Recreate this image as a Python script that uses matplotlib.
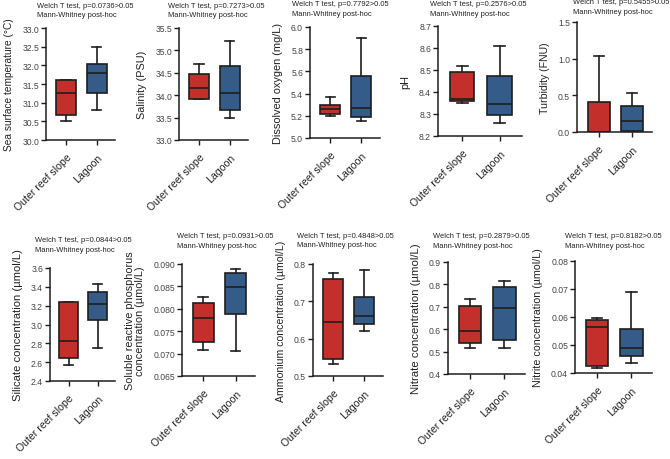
import matplotlib
matplotlib.use('Agg')
import matplotlib.pyplot as plt
import numpy as np

plt.rcParams['font.family'] = ['Liberation Sans', 'DejaVu Sans']

RED = '#C3302B'
BLUE = '#355C88'
EDGE = '#1E1E1E'

groups = ['Outer reef slope', 'Lagoon']

# five-number summaries: (min, q1, median, q3, max) for outer reef slope / lagoon
sst_outer = [30.5, 30.67, 31.25, 31.6, 31.6]
sst_lagoon = [30.8, 31.27, 31.8, 32.03, 32.5]
sal_outer = [33.92, 33.92, 34.15, 34.47, 34.7]
sal_lagoon = [33.5, 33.67, 34.05, 34.66, 35.2]
do_outer = [5.2, 5.22, 5.26, 5.3, 5.37]
do_lagoon = [5.15, 5.19, 5.27, 5.56, 5.9]
ph_outer = [8.35, 8.36, 8.37, 8.49, 8.52]
ph_lagoon = [8.26, 8.295, 8.345, 8.475, 8.61]
turb_outer = [0.0, 0.0, 0.0, 0.41, 1.03]
turb_lagoon = [0.0, 0.01, 0.15, 0.35, 0.53]
si_outer = [2.57, 2.64, 2.83, 3.24, 3.24]
si_lagoon = [2.75, 3.05, 3.22, 3.345, 3.43]
srp_outer = [0.0709, 0.0726, 0.0779, 0.0814, 0.0827]
srp_lagoon = [0.0706, 0.0788, 0.0848, 0.0880, 0.0889]
nh4_outer = [0.532, 0.545, 0.645, 0.76, 0.775]
nh4_lagoon = [0.62, 0.64, 0.66, 0.712, 0.785]
no3_outer = [0.515, 0.54, 0.593, 0.705, 0.735]
no3_lagoon = [0.515, 0.55, 0.693, 0.79, 0.815]
no2_outer = [0.0418, 0.0426, 0.0565, 0.0590, 0.0595]
no2_lagoon = [0.0435, 0.0460, 0.0488, 0.0556, 0.0688]

p_values = ['0.0736', '0.7273', '0.7792', '0.2576', '0.5455',
            '0.0844', '0.0931', '0.4848', '0.2879', '0.8182']

ylabels = ['Sea surface temperature (°C)', 'Salinity (PSU)', 'Dissolved oxygen (mg/L)',
           'pH', 'Turbidity (FNU)', 'Silicate concentration (µmol/L)',
           'Soluble reactive phosphorus\nconcentration (µmol/L)',
           'Ammonium concentration (µmol/L)', 'Nitrate concentration (µmol/L)',
           'Nitrite concentration (µmol/L)']
ylabel_size = [7.3, 7.8, 7.9, 7.8, 7.6, 8.1, 7.8, 7.6, 8.2, 7.7]

yticks = [
    [30.0, 30.5, 31.0, 31.5, 32.0, 32.5, 33.0],
    [33.0, 33.5, 34.0, 34.5, 35.0, 35.5],
    [5.0, 5.2, 5.4, 5.6, 5.8, 6.0],
    [8.2, 8.3, 8.4, 8.5, 8.6, 8.7],
    [0.0, 0.5, 1.0, 1.5],
    [2.4, 2.6, 2.8, 3.0, 3.2, 3.4, 3.6],
    [0.065, 0.070, 0.075, 0.080, 0.085, 0.090],
    [0.5, 0.6, 0.7, 0.8],
    [0.4, 0.5, 0.6, 0.7, 0.8, 0.9],
    [0.04, 0.05, 0.06, 0.07, 0.08],
]
tick_fmt = ['%.1f', '%.1f', '%.1f', '%.1f', '%.1f', '%.1f', '%.3f', '%.1f', '%.1f', '%.2f']

series = [(sst_outer, sst_lagoon), (sal_outer, sal_lagoon), (do_outer, do_lagoon),
          (ph_outer, ph_lagoon), (turb_outer, turb_lagoon), (si_outer, si_lagoon),
          (srp_outer, srp_lagoon), (nh4_outer, nh4_lagoon), (no3_outer, no3_lagoon),
          (no2_outer, no2_lagoon)]

# axes boxes in pixels: left, right, top, bottom ; title anchor x, y (line 1)
W, H = 670, 460
boxes = [(46, 115, 29, 141), (179, 248, 29, 141), (310, 380, 28, 139),
         (438, 522, 27, 137), (577, 652, 23, 133),
         (50, 115, 269, 382), (182, 255, 265, 377), (313, 383, 265, 377),
         (448, 525, 263, 375), (575, 652, 262, 374)]
titles_at = [(37, 6), (168, 6), (292, 5), (430, 5), (573, 3),
             (35, 241), (177, 237), (297, 236), (433, 237), (565, 237)]


def stats(v, label):
    return dict(whislo=v[0], q1=v[1], med=v[2], q3=v[3], whishi=v[4], label=label, fliers=[])


fig = plt.figure(figsize=(W / 100, H / 100), dpi=100, facecolor='white')

for i in range(10):
    l, r, t, b = boxes[i]
    ax = fig.add_axes([l / W, 1 - b / H, (r - l) / W, (b - t) / H])
    outer, lagoon = series[i]
    bp = ax.bxp([stats(outer, groups[0]), stats(lagoon, groups[1])],
                positions=[1, 2], widths=0.65, patch_artist=True, capwidths=0.3,
                showfliers=False,
                boxprops=dict(linewidth=1.2, edgecolor=EDGE),
                whiskerprops=dict(linewidth=1.2, color=EDGE),
                capprops=dict(linewidth=1.2, color=EDGE),
                medianprops=dict(linewidth=1.2, color=EDGE))
    for patch, c in zip(bp['boxes'], [RED, BLUE]):
        patch.set_facecolor(c)
    for art in bp['whiskers'] + bp['caps']:
        art.set_zorder(1)
    ax.set_xlim(0.35, 2.6)
    ax.set_ylim(yticks[i][0], yticks[i][-1])
    ax.set_yticks(yticks[i])
    ax.set_yticklabels([tick_fmt[i] % v for v in yticks[i]])
    ax.set_xticks([1, 2])
    ax.set_xticklabels(groups, rotation=45, ha='right', rotation_mode='anchor', fontsize=7.6)
    ax.spines['top'].set_visible(False)
    ax.spines['right'].set_visible(False)
    for s in ['left', 'bottom']:
        ax.spines[s].set_linewidth(1.1)
        ax.spines[s].set_color(EDGE)
    ax.tick_params(axis='y', labelsize=6.2, colors=EDGE, labelcolor='#444444',
                   length=3.5, width=1.0, pad=1.5)
    ax.tick_params(axis='x', length=3.5, width=1.0, colors=EDGE, labelcolor='#222222', pad=5)
    ax.set_ylabel(ylabels[i], fontsize=ylabel_size[i], color='#222222', labelpad=6,
                  linespacing=1.0)

    tx, ty = titles_at[i]
    fig.text(tx / W, 1 - ty / H, 'Welch T test, p=%s>0.05' % p_values[i],
             fontsize=5.4, color='#222222', ha='left', va='center')
    fig.text(tx / W, 1 - (ty + 9.5) / H, 'Mann-Whitney post-hoc',
             fontsize=5.4, color='#222222', ha='left', va='center')

fig.savefig('out.png', dpi=100, facecolor='white')
plt.close()
print('out.png')
